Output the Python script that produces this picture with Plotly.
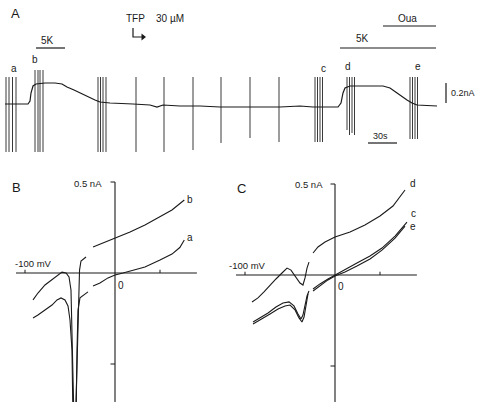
import plotly.graph_objects as go

W, H = 477, 402

# ---------------- Panel A : current trace (time in s, current in nA rel. to baseline) ----------------
trace_t = [0, 23, 25, 26, 28, 31, 40, 50, 57, 62, 69, 75, 81, 85, 90, 95, 105, 128, 145, 152, 158,
           175, 195, 215, 235, 255, 275, 295, 308, 333, 336, 338, 340, 345, 360, 378, 385, 392,
           397, 402, 407, 412, 432]
trace_i = [0, 0, 0.03, 0.11, 0.18, 0.20, 0.21, 0.21, 0.20, 0.17, 0.14, 0.11, 0.08, 0.06, 0.04,
           0.02, 0.01, 0, -0.01, -0.03, -0.01, -0.02, -0.02, -0.03, -0.03, -0.03, -0.03, -0.02,
           -0.03, -0.03, 0.01, 0.11, 0.16, 0.18, 0.18, 0.18, 0.16, 0.11, 0.07, 0.04, 0.01,
           -0.01, -0.02]

# voltage-ramp artefacts (time, max current, min current)
ramp_t = [1, 4, 7.5, 11,
          30, 33, 35, 38,
          93, 95.5, 98, 101,
          131, 159, 188, 216, 245, 274,
          310, 312.5, 315, 317.5,
          342, 344.5, 347, 349.5,
          405, 407.5, 410, 412.5]
ramp_top = [0.27, 0.27, 0.27, 0.27,
            0.34, 0.34, 0.34, 0.34,
            0.27, 0.27, 0.27, 0.27,
            0.27, 0.27, 0.27, 0.27, 0.27, 0.27,
            0.27, 0.27, 0.27, 0.27,
            0.27, 0.27, 0.27, 0.27,
            0.27, 0.27, 0.27, 0.27]
ramp_bot = [-0.48, -0.48, -0.48, -0.48,
            -0.48, -0.48, -0.48, -0.48,
            -0.48, -0.48, -0.48, -0.48,
            -0.48, -0.48, -0.46, -0.39, -0.34, -0.38,
            -0.38, -0.38, -0.38, -0.38,
            -0.26, -0.31, -0.29, -0.31,
            -0.35, -0.35, -0.35, -0.35]

k5_first = [31, 60]
k5_second = [335, 431]
oua_period = [378, 431]
tfp_time = 128
scale_time = [363, 392]      # 30 s bar
scale_current = [0.01, 0.21]  # 0.2 nA bar

# ---------------- Panel B : I-V curves (mV, nA) ----------------
b_a_v = [-91.1, -85.6, -77.8, -70.0, -64.4, -60.0, -55.6, -52.2, -50.0, -47.8, -46.7, -43.3,
         -42.2, -41.1, -38.9, -34.4, -30.0, None,
         -24.4, -16.7, -7.8, 0, 8.9, 22.2, 33.3, 50, 63.3, 72.0, 77.0]
b_a_i = [-0.247, -0.231, -0.203, -0.176, -0.148, -0.137, -0.148, -0.181, -0.258, -0.423, -0.80,
         -0.80, -0.423, -0.203, -0.137, -0.121, -0.104, None,
         -0.071, -0.055, -0.027, -0.011, 0.0, 0.016, 0.033, 0.071, 0.104, 0.140, 0.181]
b_b_v = [-91.1, -85.6, -77.8, -70.0, -63.3, -58.9, -54.4, -51.1, -48.9, -47.8, -46.7, -45.6,
         -43.8, -41.1, -40.0, -39.4, -37.8, -32.2, None,
         -24.4, -16.7, 0, 16.7, 33.3, 50, 63.3, 77.0]
b_b_i = [-0.148, -0.110, -0.066, -0.038, -0.011, 0.005, 0.0, -0.022, -0.093, -0.258, -0.478,
         -0.80, -0.80, -0.368, -0.148, 0.016, 0.066, 0.088, None,
         0.143, 0.159, 0.192, 0.225, 0.264, 0.308, 0.346, 0.401]

# ---------------- Panel C : I-V curves (mV, nA) ----------------
c_c_v = [-91.1, -83.3, -74.4, -65.6, -57.8, -51.1, -45.6, -41.1, -37.8, -35.6, -33.3, -31.1,
         -28.9, None, -24.4, -16.7, -7.8, 0, 11.1, 24.4, 38.9, 52.2, 66.7, 80.0]
c_c_i = [-0.258, -0.236, -0.209, -0.176, -0.154, -0.148, -0.170, -0.214, -0.242, -0.220, -0.165,
         -0.115, -0.088, None, -0.077, -0.049, -0.022, 0, 0.027, 0.066, 0.104, 0.148, 0.214, 0.291]
c_e_v = [-91.1, -81.1, -72.2, -63.3, -55.6, -50.0, -44.4, -40.0, -36.7, -34.4, -32.2, -30.0,
         None, -24.4, -16.7, -7.8, 0, 11.1, 24.4, 38.9, 52.2, 66.7, 77.8]
c_e_i = [-0.269, -0.242, -0.214, -0.187, -0.170, -0.165, -0.192, -0.236, -0.258, -0.231, -0.154,
         -0.104, None, -0.088, -0.060, -0.027, -0.005, 0.016, 0.049, 0.088, 0.137, 0.203, 0.269]
c_d_v = [-92.2, -85.6, -78.9, -72.2, -65.6, -58.9, -53.3, -48.9, -43.3, -38.9, -35.6, -33.3,
         -31.1, -28.9, None, -24.4, -18.9, -11.1, 0, 16.7, 33.3, 50, 64.4, 77.8]
c_d_i = [-0.148, -0.126, -0.093, -0.055, -0.022, 0.011, 0.038, 0.027, -0.011, -0.044, -0.055,
         -0.016, 0.038, 0.071, None, 0.121, 0.154, 0.181, 0.209, 0.236, 0.275, 0.324, 0.379, 0.467]

iv_axis_v = [-110, 91]
iv_axis_i = [0.5, -0.9]
iv_vticks = [-100, 50]
iv_iticks = [0.5, -0.5]

# ---------------- layout helpers ----------------
def axes(dom_x, dom_y, org, scale):
    """dom in px, org = origin px (x, y), scale = px per unit (x, y)"""
    xd = [dom_x[0] / W, dom_x[1] / W]
    yd = [1 - dom_y[1] / H, 1 - dom_y[0] / H]
    xr = [(dom_x[0] - org[0]) / scale[0], (dom_x[1] - org[0]) / scale[0]]
    yr = [(org[1] - dom_y[1]) / scale[1], (org[1] - dom_y[0]) / scale[1]]
    return (dict(domain=xd, range=xr, visible=False, fixedrange=True),
            dict(domain=yd, range=yr, visible=False, fixedrange=True))

def px(x, y):
    return x / W, 1 - y / H

INK = "#1a1a1a"
GREY = "#3a3a3a"
FONT = "Liberation Sans, Arial, sans-serif"

fig = go.Figure()

def line(x, y, xa, ya, color=INK, width=1.1):
    fig.add_trace(go.Scatter(x=x, y=y, xaxis=xa, yaxis=ya, mode="lines",
                             line=dict(color=color, width=width), hoverinfo="skip",
                             connectgaps=False, showlegend=False))

# ---- Panel A ----
rx, ry = [], []
for t, top, bot in zip(ramp_t, ramp_top, ramp_bot):
    rx += [t, t, None]
    ry += [bot, top, None]
line(rx, ry, "x", "y", GREY, 1.0)
line(trace_t, trace_i, "x", "y", INK, 1.2)
bar_y = 0.56
line(k5_first, [bar_y, bar_y], "x", "y", INK, 1.2)
line(k5_second, [bar_y, bar_y], "x", "y", INK, 1.2)
line(oua_period, [0.78, 0.78], "x", "y", INK, 1.2)
line([tfp_time, tfp_time, tfp_time + 9], [0.76, 0.67, 0.67], "x", "y", INK, 1.2)
fig.add_trace(go.Scatter(x=[tfp_time + 10], y=[0.67], xaxis="x", yaxis="y", mode="markers",
                         marker=dict(symbol="triangle-right", size=6, color=INK),
                         hoverinfo="skip", showlegend=False))
line(scale_time, [-0.39, -0.39], "x", "y", INK, 1.2)
line([441, 441], scale_current, "x", "y", INK, 1.2)

# ---- Panel B / C ----
for xa, ya in (("x2", "y2"), ("x3", "y3")):
    line(iv_axis_v, [0, 0], xa, ya, INK, 1.1)
    line([0, 0], iv_axis_i, xa, ya, INK, 1.1)
    tx, ty = [], []
    for v in iv_vticks:
        tx += [v, v, None]
        ty += [0, 0.018, None]
    for i in iv_iticks:
        tx += [0, -5, None]
        ty += [i, i, None]
    line(tx, ty, xa, ya, INK, 1.0)

line(b_a_v, b_a_i, "x2", "y2")
line(b_b_v, b_b_i, "x2", "y2")
line(c_c_v, c_c_i, "x3", "y3")
line(c_e_v, c_e_i, "x3", "y3")
line(c_d_v, c_d_i, "x3", "y3")

xa1, ya1 = axes((0, 477), (0, 165), (5, 104), (1.0, 100.0))
xa2, ya2 = axes((0, 228), (170, 402), (115, 273), (0.9, 182.0))
xa3, ya3 = axes((228, 477), (170, 402), (335, 275), (0.9, 182.0))
ya2["anchor"] = "x2"; xa2["anchor"] = "y2"
ya3["anchor"] = "x3"; xa3["anchor"] = "y3"

texts = [
    ("A", 15, 14, 13, "center"), ("B", 16, 187, 13, "center"), ("C", 241, 188, 13, "center"),
    ("TFP", 135, 19, 10, "center"), ("30 \u00b5M", 170, 19, 10, "center"),
    ("5K", 47, 40, 10, "center"), ("5K", 362, 38, 10, "center"), ("Oua", 407, 19, 10, "center"),
    ("a", 14, 69, 10, "center"), ("b", 35, 60, 10, "center"), ("c", 323, 68, 10, "center"),
    ("d", 348, 66, 10, "center"), ("e", 418, 67, 10, "center"),
    ("0.2nA", 449, 93, 9, "left"), ("30s", 380, 136, 9, "center"),
    ("0.5 nA", 104, 183, 9.5, "right"), ("-100 mV", 33, 263, 9.5, "center"),
    ("0", 121, 285, 10, "center"), ("b", 190, 199, 10, "center"), ("a", 190, 237, 10, "center"),
    ("0.5 nA", 325, 184, 9.5, "right"), ("-100 mV", 247, 265, 9.5, "center"),
    ("0", 341, 286, 10, "center"), ("d", 413, 183, 10, "center"), ("c", 413, 213, 10, "center"),
    ("e", 413, 226, 10, "center"),
]
annotations = []
for s, x, y, size, align in texts:
    xp, yp = px(x, y)
    annotations.append(dict(text=s, x=xp, y=yp, xref="paper", yref="paper", showarrow=False,
                            xanchor=align, yanchor="middle",
                            font=dict(family=FONT, size=size, color=INK)))

fig.update_layout(
    width=W, height=H, margin=dict(l=0, r=0, t=0, b=0),
    paper_bgcolor="white", plot_bgcolor="rgba(0,0,0,0)", showlegend=False,
    xaxis=xa1, yaxis=ya1, xaxis2=xa2, yaxis2=ya2, xaxis3=xa3, yaxis3=ya3,
    annotations=annotations, hovermode=False,
)
fig.write_html("out.html", config={"displayModeBar": False, "staticPlot": True},
               post_script="document.body.style.margin='0';document.body.style.overflow='hidden';")
